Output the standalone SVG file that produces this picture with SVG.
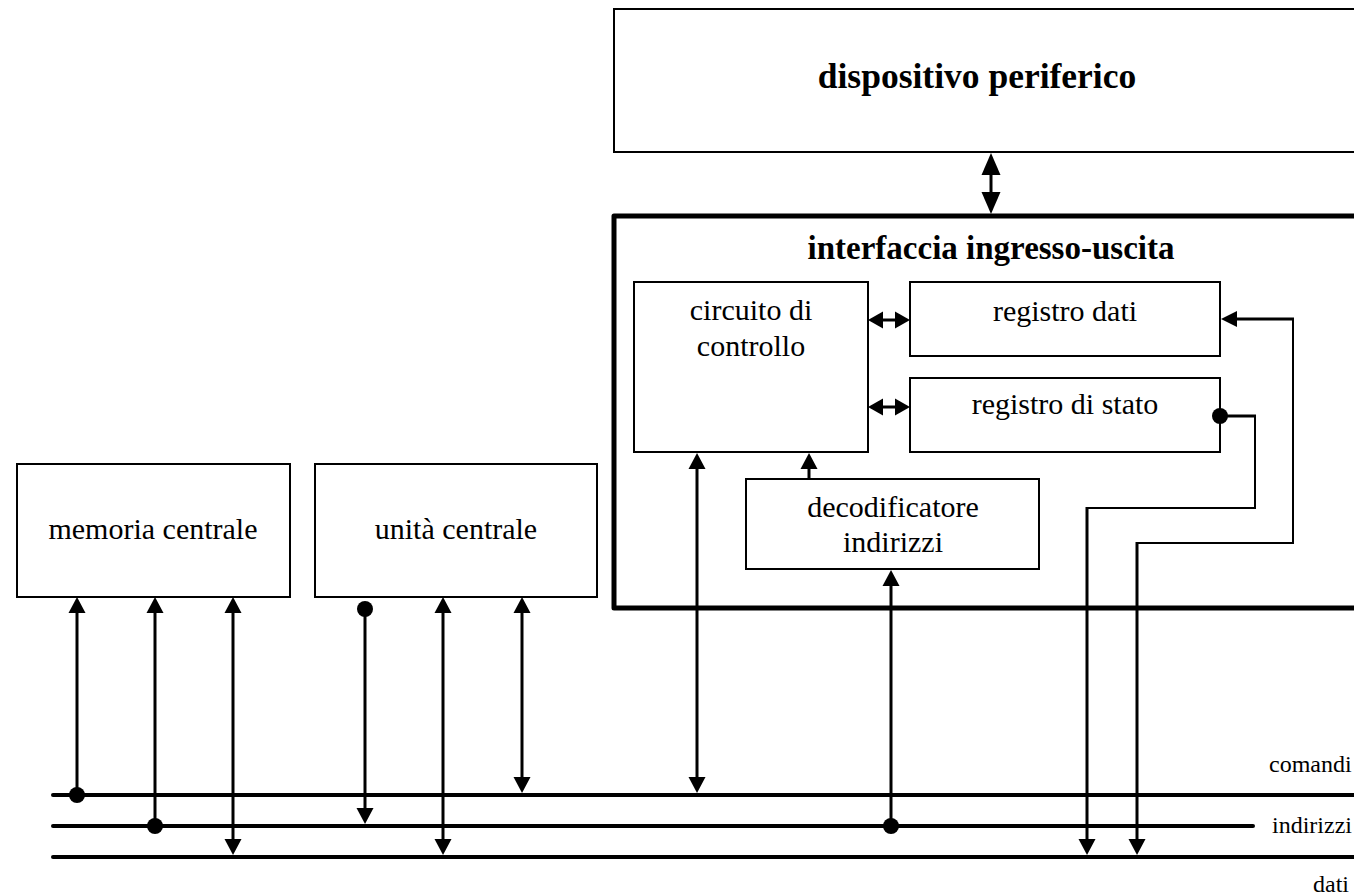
<svg xmlns="http://www.w3.org/2000/svg" xmlns:xlink="http://www.w3.org/1999/xlink" width="1354" height="895" viewBox="0 0 1354 895">
<style>
.box{fill:#fff;stroke:#000;stroke-width:2}
.frame{fill:none;stroke:#000;stroke-width:5;stroke-linejoin:round}
.ln{stroke:#000;stroke-width:3;fill:none}
.thin{stroke:#000;stroke-width:2;fill:none}
.bus{stroke:#000;stroke-width:4;stroke-linecap:round}
.hd{fill:#000}
.t{font-family:"Liberation Serif","Times New Roman",serif;font-size:30px;text-anchor:middle;fill:#000}
.b{font-weight:bold;font-size:33px}
.s{font-size:24px;text-anchor:start}
</style>
<defs>
<path id="up" d="M0,0 L8.5,16 L-8.5,16 z"/>
<path id="dn" d="M0,0 L8.5,-16 L-8.5,-16 z"/>
<path id="lt" d="M0,0 L16,-8 L16,8 z"/>
<path id="su" d="M0,0 L9.5,22 L-9.5,22 z"/>
<path id="sd" d="M0,0 L9.5,-22 L-9.5,-22 z"/>
<path id="sl" d="M0,0 L15,-8.5 L15,8.5 z"/>
<path id="sr" d="M0,0 L-15,-8.5 L-15,8.5 z"/>
</defs>
<rect width="1354" height="895" fill="#fff"/>

<g id="periferico">
<rect class="box" x="614" y="9" width="770" height="143"/>
<text class="t b" x="977" y="88" style="font-size:35.5px">dispositivo periferico</text>
</g>

<g id="interfaccia">
<rect class="frame" x="614" y="216" width="770" height="392"/>
<text class="t b" x="991" y="259">interfaccia ingresso-uscita</text>
</g>

<g id="circuito">
<rect class="box" x="634" y="282" width="234" height="170"/>
<text class="t" x="751" y="320">circuito di</text>
<text class="t" x="751" y="356">controllo</text>
</g>

<g id="registro-dati">
<rect class="box" x="910" y="282" width="310" height="74"/>
<text class="t" x="1065" y="321">registro dati</text>
</g>

<g id="registro-stato">
<rect class="box" x="910" y="378" width="310" height="74"/>
<text class="t" x="1065" y="414">registro di stato</text>
</g>

<g id="decodificatore">
<rect class="box" x="746" y="479" width="293" height="90"/>
<text class="t" x="893" y="517">decodificatore</text>
<text class="t" x="893" y="552">indirizzi</text>
</g>

<g id="memoria">
<rect class="box" x="17" y="464" width="273" height="133"/>
<text class="t" x="153" y="539">memoria centrale</text>
</g>

<g id="unita">
<rect class="box" x="315" y="464" width="282" height="133"/>
<text class="t" x="456" y="539">unità centrale</text>
</g>

<g id="bus">
<line class="bus" x1="53" y1="795" x2="1360" y2="795"/>
<line class="bus" x1="53" y1="826" x2="1253" y2="826"/>
<line class="bus" x1="53" y1="857" x2="1360" y2="857"/>
<text class="t s" x="1269" y="772">comandi</text>
<text class="t s" x="1272" y="833">indirizzi</text>
<text class="t s" x="1313" y="892">dati</text>
</g>

<g id="connectors">
<line class="ln" x1="991" y1="170" x2="991" y2="195"/>
<use href="#su" x="991" y="153" class="hd"/>
<use href="#sd" x="991" y="214" class="hd"/>

<line class="ln" x1="875" y1="320" x2="903" y2="320"/>
<use href="#sl" x="868" y="320" class="hd"/>
<use href="#sr" x="910" y="320" class="hd"/>
<line class="ln" x1="875" y1="407" x2="903" y2="407"/>
<use href="#sl" x="868" y="407" class="hd"/>
<use href="#sr" x="910" y="407" class="hd"/>

<line class="ln" x1="77" y1="605" x2="77" y2="795"/>
<use href="#up" x="77" y="597" class="hd"/>
<circle cx="77" cy="795" r="8"/>
<line class="ln" x1="155" y1="605" x2="155" y2="826"/>
<use href="#up" x="155" y="597" class="hd"/>
<circle cx="155" cy="826" r="8"/>
<line class="ln" x1="233" y1="605" x2="233" y2="848"/>
<use href="#up" x="233" y="597" class="hd"/>
<use href="#dn" x="233" y="855" class="hd"/>

<line class="ln" x1="365" y1="609" x2="365" y2="816"/>
<circle cx="365" cy="609" r="8"/>
<use href="#dn" x="365" y="824" class="hd"/>
<line class="ln" x1="443" y1="605" x2="443" y2="848"/>
<use href="#up" x="443" y="597" class="hd"/>
<use href="#dn" x="443" y="855" class="hd"/>
<line class="ln" x1="522" y1="605" x2="522" y2="786"/>
<use href="#up" x="522" y="597" class="hd"/>
<use href="#dn" x="522" y="793" class="hd"/>

<line class="ln" x1="697" y1="461" x2="697" y2="786"/>
<use href="#up" x="697" y="453" class="hd"/>
<use href="#dn" x="697" y="793" class="hd"/>

<line class="ln" x1="809" y1="461" x2="809" y2="479"/>
<use href="#up" x="809" y="453" class="hd"/>

<line class="ln" x1="891" y1="578" x2="891" y2="826"/>
<use href="#up" x="891" y="570" class="hd"/>
<circle cx="891" cy="826" r="8"/>

<circle cx="1220" cy="416" r="8"/>
<line class="ln" x1="1220" y1="416" x2="1256" y2="416"/>
<polyline class="thin" points="1255,416 1255,508 1087,508"/>
<line class="ln" x1="1087" y1="507" x2="1087" y2="848"/>
<use href="#dn" x="1087" y="855" class="hd"/>

<line class="ln" x1="1228" y1="319" x2="1294" y2="319"/>
<use href="#lt" x="1221" y="319" class="hd"/>
<polyline class="thin" points="1293,319 1293,543 1137,543"/>
<line class="ln" x1="1137" y1="542" x2="1137" y2="848"/>
<use href="#dn" x="1137" y="855" class="hd"/>
</g>
</svg>
